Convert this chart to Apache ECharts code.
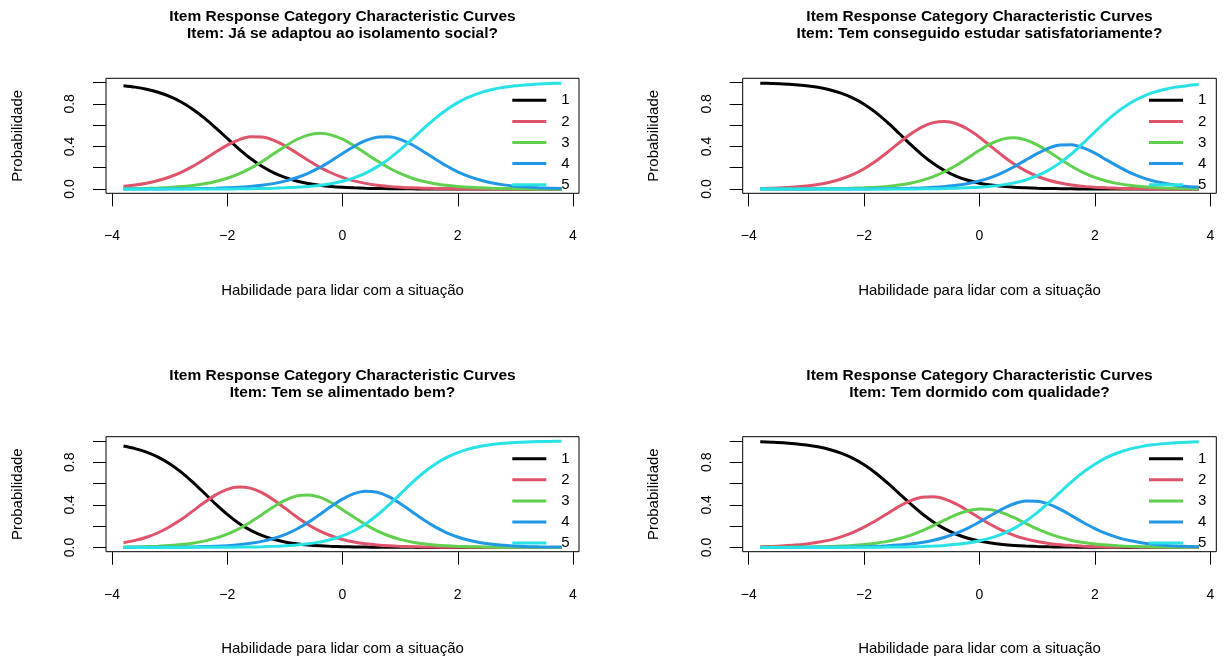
<!DOCTYPE html>
<html><head><meta charset="utf-8">
<script src="https://cdn.jsdelivr.net/npm/echarts@6/dist/echarts.min.js"></script>
<style>html,body{margin:0;padding:0;background:#fff}#c{width:1224px;height:659px}</style>
</head><body><div id="c"></div>
<script>
// ---- data ----
const theta = [-3.8,-3.6,-3.4,-3.2,-3.0,-2.8,-2.6,-2.4,-2.2,-2.0,-1.8,-1.6,-1.4,-1.2,-1.0,-0.8,-0.6,-0.4,-0.2,0,0.2,0.4,0.6,0.8,1.0,1.2,1.4,1.6,1.8,2.0,2.2,2.4,2.6,2.8,3.0,3.2,3.4,3.6,3.8];
const categories = ['1','2','3','4','5'];
const mainTitle = 'Item Response Category Characteristic Curves';
const itemNames = ['Já se adaptou ao isolamento social?','Tem conseguido estudar satisfatoriamente?','Tem se alimentado bem?','Tem dormido com qualidade?'];
const xTickValues = [-4,-2,0,2,4];
const yTickValues = [0,0.2,0.4,0.6,0.8,1.0];
const yLabelValues = [0,0.4,0.8];
const xAxisTitle = 'Habilidade para lidar com a situação';
const yAxisTitle = 'Probabilidade';

// Item 1: Já se adaptou ao isolamento social?
const adaptou1 = [0.971,0.957,0.937,0.909,0.870,0.818,0.750,0.668,0.574,0.475,0.378,0.289,0.214,0.154,0.109,0.076,0.052,0.036,0.024,0.016,0.011,0.007,0.005,0.003,0.002,0.002,0.001,0.001,0.001,0,0,0,0,0,0,0,0,0,0];
const adaptou2 = [0.026,0.038,0.055,0.080,0.113,0.157,0.213,0.278,0.347,0.412,0.462,0.490,0.489,0.459,0.406,0.340,0.271,0.206,0.153,0.109,0.077,0.053,0.036,0.025,0.017,0.011,0.008,0.005,0.003,0.002,0.002,0.001,0.001,0.001,0,0,0,0,0];
const adaptou3 = [0.003,0.005,0.007,0.010,0.015,0.023,0.033,0.049,0.071,0.101,0.142,0.194,0.257,0.329,0.400,0.463,0.506,0.523,0.509,0.468,0.407,0.336,0.265,0.200,0.146,0.104,0.073,0.050,0.035,0.024,0.016,0.011,0.007,0.005,0.003,0.002,0.001,0.001,0.001];
const adaptou4 = [0,0,0.001,0.001,0.002,0.002,0.003,0.005,0.007,0.011,0.016,0.024,0.035,0.051,0.074,0.106,0.148,0.201,0.264,0.333,0.400,0.454,0.487,0.491,0.467,0.418,0.353,0.285,0.219,0.162,0.117,0.083,0.057,0.039,0.027,0.018,0.012,0.008,0.006];
const adaptou5 = [0,0,0,0,0,0,0,0.001,0.001,0.001,0.002,0.003,0.005,0.007,0.011,0.016,0.023,0.034,0.050,0.073,0.105,0.149,0.208,0.281,0.368,0.465,0.565,0.659,0.743,0.812,0.865,0.906,0.935,0.955,0.970,0.979,0.986,0.991,0.994];
// Item 2: Tem conseguido estudar satisfatoriamente?
const estudar1 = [0.994,0.991,0.987,0.980,0.970,0.955,0.933,0.901,0.856,0.797,0.720,0.628,0.526,0.422,0.324,0.240,0.172,0.120,0.082,0.055,0.037,0.025,0.016,0.011,0.007,0.005,0.003,0.002,0.001,0.001,0.001,0,0,0,0,0,0,0,0];
const estudar2 = [0.006,0.008,0.013,0.019,0.029,0.043,0.064,0.094,0.135,0.191,0.261,0.343,0.431,0.514,0.582,0.624,0.635,0.613,0.561,0.487,0.400,0.313,0.235,0.170,0.120,0.082,0.056,0.038,0.025,0.017,0.011,0.007,0.005,0.003,0.002,0.001,0.001,0.001,0];
const estudar3 = [0,0,0.001,0.001,0.001,0.002,0.003,0.005,0.007,0.011,0.017,0.025,0.037,0.055,0.081,0.117,0.165,0.224,0.293,0.364,0.427,0.469,0.482,0.462,0.415,0.350,0.279,0.212,0.154,0.109,0.076,0.051,0.035,0.023,0.015,0.010,0.007,0.004,0.003];
const estudar4 = [0,0,0,0,0,0,0,0.001,0.001,0.001,0.002,0.003,0.005,0.007,0.010,0.016,0.024,0.035,0.052,0.077,0.110,0.155,0.209,0.272,0.333,0.385,0.414,0.415,0.386,0.337,0.274,0.213,0.157,0.112,0.078,0.054,0.036,0.024,0.016];
const estudar5 = [0,0,0,0,0,0,0,0,0,0,0,0.001,0.001,0.001,0.002,0.003,0.005,0.008,0.011,0.017,0.026,0.039,0.058,0.085,0.125,0.178,0.248,0.333,0.433,0.537,0.639,0.729,0.804,0.861,0.905,0.935,0.957,0.971,0.981];
// Item 3: Tem se alimentado bem?
const alimentado1 = [0.952,0.928,0.895,0.848,0.786,0.707,0.614,0.511,0.407,0.311,0.228,0.163,0.113,0.077,0.052,0.035,0.023,0.015,0.010,0.007,0.004,0.003,0.002,0.001,0.001,0.001,0,0,0,0,0,0,0,0,0,0,0,0,0];
const alimentado2 = [0.045,0.066,0.096,0.138,0.194,0.262,0.341,0.422,0.494,0.546,0.568,0.557,0.515,0.449,0.370,0.289,0.216,0.156,0.110,0.075,0.051,0.034,0.023,0.015,0.010,0.007,0.004,0.003,0.002,0.001,0.001,0.001,0,0,0,0,0,0,0];
const alimentado3 = [0.003,0.005,0.008,0.012,0.018,0.027,0.040,0.059,0.087,0.125,0.175,0.237,0.308,0.380,0.442,0.483,0.493,0.472,0.422,0.355,0.283,0.214,0.156,0.110,0.076,0.052,0.035,0.023,0.015,0.010,0.007,0.004,0.003,0.002,0.001,0.001,0.001,0,0];
const alimentado4 = [0,0.001,0.001,0.002,0.002,0.003,0.005,0.008,0.011,0.017,0.026,0.039,0.057,0.084,0.121,0.171,0.233,0.307,0.384,0.454,0.505,0.528,0.518,0.477,0.413,0.338,0.262,0.195,0.140,0.098,0.067,0.045,0.030,0.020,0.013,0.009,0.006,0.004,0.003];
const alimentado5 = [0,0,0,0,0,0,0.001,0.001,0.001,0.002,0.003,0.004,0.006,0.010,0.015,0.022,0.034,0.050,0.075,0.109,0.157,0.221,0.302,0.397,0.500,0.604,0.699,0.779,0.843,0.891,0.926,0.950,0.966,0.978,0.985,0.990,0.994,0.996,0.997];
// Item 4: Tem dormido com qualidade?
const dormido1 = [0.992,0.988,0.983,0.974,0.962,0.945,0.920,0.885,0.838,0.776,0.699,0.608,0.510,0.411,0.319,0.239,0.174,0.124,0.086,0.060,0.041,0.028,0.019,0.013,0.009,0.006,0.004,0.003,0.002,0.001,0.001,0.001,0,0,0,0,0,0,0];
const dormido2 = [0.007,0.010,0.015,0.022,0.033,0.048,0.069,0.099,0.139,0.190,0.250,0.317,0.383,0.437,0.471,0.476,0.454,0.407,0.344,0.277,0.213,0.158,0.114,0.080,0.056,0.038,0.026,0.018,0.012,0.008,0.005,0.004,0.003,0.002,0.001,0.001,0.001,0,0];
const dormido3 = [0.001,0.001,0.002,0.003,0.004,0.006,0.008,0.013,0.018,0.027,0.040,0.057,0.082,0.114,0.156,0.205,0.258,0.308,0.345,0.362,0.355,0.325,0.279,0.226,0.175,0.130,0.094,0.066,0.046,0.032,0.022,0.015,0.010,0.007,0.004,0.003,0.002,0.001,0.001];
const dormido4 = [0,0,0,0.001,0.001,0.001,0.002,0.003,0.005,0.007,0.010,0.015,0.022,0.032,0.046,0.067,0.096,0.134,0.182,0.240,0.302,0.362,0.410,0.435,0.434,0.406,0.357,0.296,0.234,0.177,0.129,0.092,0.065,0.045,0.031,0.021,0.014,0.010,0.006];
const dormido5 = [0,0,0,0,0,0,0,0.001,0.001,0.001,0.002,0.003,0.004,0.006,0.009,0.013,0.019,0.029,0.042,0.062,0.090,0.128,0.179,0.246,0.327,0.421,0.520,0.618,0.707,0.782,0.843,0.889,0.923,0.947,0.964,0.975,0.983,0.989,0.993];

// ---- build ----
const panels = [
  [adaptou1,adaptou2,adaptou3,adaptou4,adaptou5],
  [estudar1,estudar2,estudar3,estudar4,estudar5],
  [alimentado1,alimentado2,alimentado3,alimentado4,alimentado5],
  [dormido1,dormido2,dormido3,dormido4,dormido5]
];
const colors = ['#000000','#DF536B','#61D04F','#2297E6','#28E2E5'];
const FONT = "'Liberation Sans', Arial, Helvetica, sans-serif";
const boxes = [
  {l:106, t:78.3, w:473},
  {l:742.7, t:78.3, w:473.6},
  {l:106, t:436.7, w:473},
  {l:742.7, t:436.7, w:473.6}
];
const BOX_H = 115;

const option = {
  animation: false,
  backgroundColor: '#ffffff',
  color: colors,
  title: [], grid: [], xAxis: [], yAxis: [], legend: [], series: []
};

boxes.forEach((b, i) => {
  option.title.push({
    text: mainTitle + '\n' + 'Item: ' + itemNames[i],
    left: b.l + b.w / 2, top: b.t - 70.0, textAlign: 'center', padding: 0,
    textStyle: {fontFamily: FONT, fontWeight: 'bold', fontSize: 15.5, lineHeight: 17.2, color: '#000'}
  });
  option.grid.push({left: b.l, top: b.t, width: b.w, height: BOX_H, show: true,
    borderColor: '#000', borderWidth: 1, backgroundColor: 'transparent', containLabel: false});
  option.xAxis.push({
    type: 'value', gridIndex: i, min: -4.104, max: 4.104,
    name: xAxisTitle, nameLocation: 'middle', nameGap: 90,
    nameTextStyle: {fontFamily: FONT, fontSize: 15, color: '#000'},
    axisLine: {show: false, onZero: false}, splitLine: {show: false},
    axisTick: {show: true, inside: false, length: 13, customValues: xTickValues, lineStyle: {color: '#000', width: 1}},
    axisLabel: {show: true, customValues: xTickValues, margin: 36, fontFamily: FONT, fontSize: 14, color: '#000',
      formatter: v => String(v).replace('-', '\u2212')}
  });
  option.yAxis.push({
    type: 'value', gridIndex: i, min: -0.04, max: 1.04,
    name: yAxisTitle, nameLocation: 'middle', nameGap: 81, nameRotate: 90,
    nameTextStyle: {fontFamily: FONT, fontSize: 15, color: '#000'},
    axisLine: {show: false, onZero: false}, splitLine: {show: false},
    axisTick: {show: true, inside: false, length: 13, customValues: yTickValues, lineStyle: {color: '#000', width: 1}},
    axisLabel: {show: true, customValues: yLabelValues, rotate: 90, margin: 29, fontFamily: FONT, fontSize: 14, color: '#000',
      formatter: v => Number(v).toFixed(1)}
  });
  option.legend.push({
    orient: 'vertical', left: b.l + 406.3, top: b.t + 14.5, padding: 0,
    icon: 'rect', itemWidth: 34, itemHeight: 3, itemGap: 6.1, selectedMode: false,
    data: categories,
    textStyle: {fontFamily: FONT, fontSize: 15, lineHeight: 15, color: '#000', padding: [0,0,0,10]}
  });
  panels[i].forEach((arr, k) => {
    option.series.push({
      type: 'line', name: categories[k], xAxisIndex: i, yAxisIndex: i,
      data: theta.map((t, j) => [t, arr[j]]),
      smooth: 0.3, showSymbol: false, symbol: 'none', silent: true,
      lineStyle: {width: 3, color: colors[k]}, itemStyle: {color: colors[k]}
    });
  });
});

const chart = echarts.init(document.getElementById('c'), null, {renderer: 'canvas'});
chart.setOption(option);
</script>
</body></html>
